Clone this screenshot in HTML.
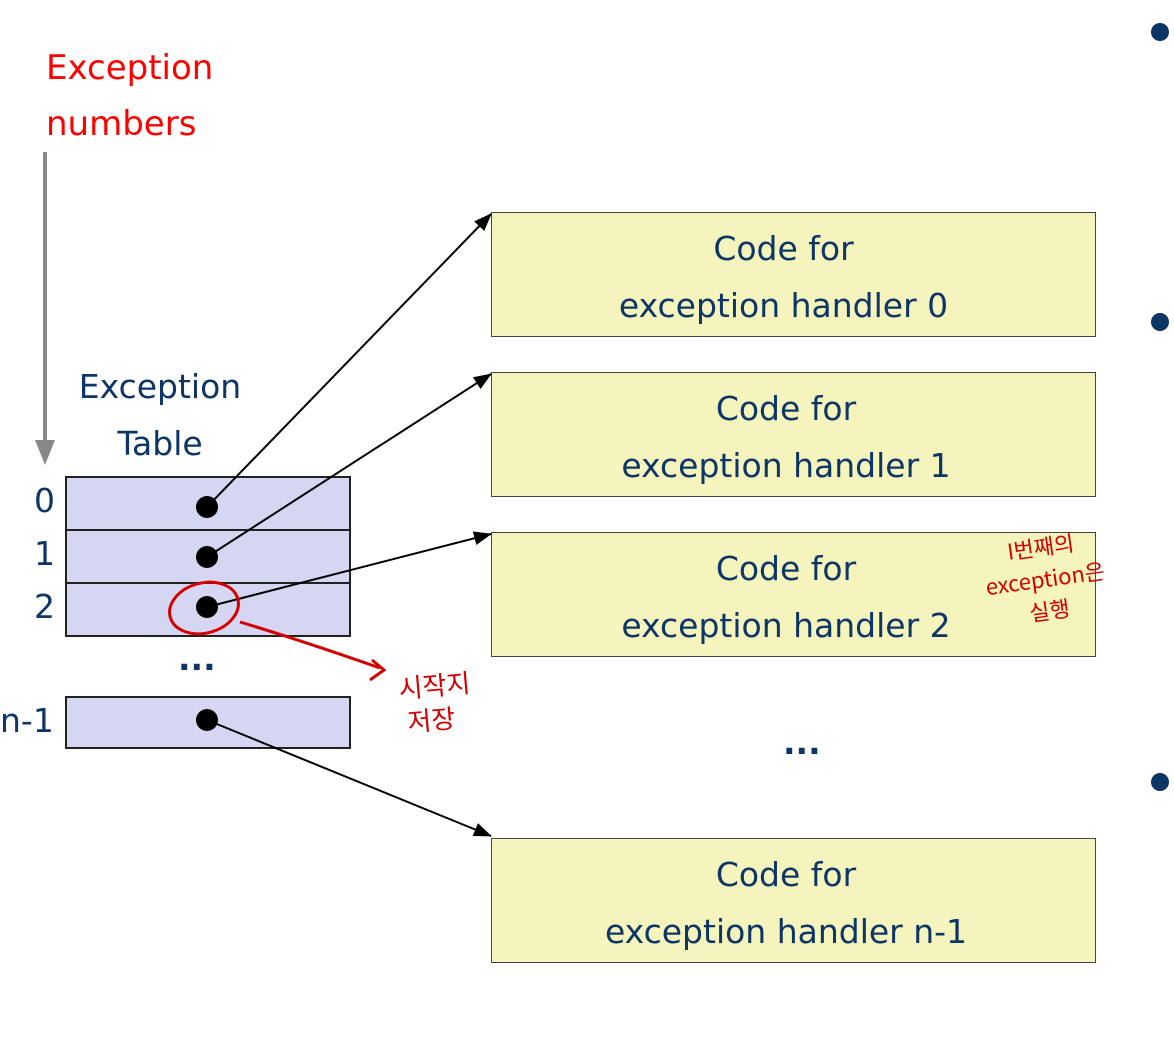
<!DOCTYPE html>
<html><head><meta charset="utf-8"><style>
body{margin:0;background:#fff;width:1174px;height:1040px;overflow:hidden;position:relative;font-family:"DejaVu Sans","Noto Sans CJK KR",sans-serif}
.t{position:absolute;color:#0d3566;font-size:33px;text-align:center;line-height:57px}
.box{position:absolute;left:491px;width:603px;height:123px;background:#f5f4bd;border:1.5px solid #444}
.row{position:absolute;left:65px;width:282px;background:#d5d6f2;border:2px solid #222}
.hw{position:absolute;color:#d40000;font-size:26px;font-family:"Noto Sans CJK KR",sans-serif}
</style></head><body>
<div style="position:absolute;left:46px;top:40px;color:#f00;font-size:34px;line-height:56px">Exception<br>numbers</div>
<div class="t" style="left:50px;top:358px;width:220px">Exception<br>Table</div>
<div class="row" style="top:476px;height:51px"></div>
<div class="row" style="top:529px;height:51px"></div>
<div class="row" style="top:582px;height:51px"></div>
<div class="row" style="top:696px;height:49px"></div>
<div class="t" style="left:34px;top:474px;width:24px;text-align:left;line-height:53px">0<br>1<br>2</div>
<div class="t" style="left:0;top:692px;text-align:left">n-1</div>
<div class="t" style="left:178px;top:630px;font-weight:bold">...</div>
<div class="box" style="top:212px"></div>
<div class="box" style="top:372px"></div>
<div class="box" style="top:532px"></div>
<div class="box" style="top:838px"></div>
<div class="t" style="left:491px;width:585px;top:220px">Code for<br>exception handler 0</div>
<div class="t" style="left:491px;width:590px;top:380px">Code for<br>exception handler 1</div>
<div class="t" style="left:491px;width:590px;top:540px">Code for<br>exception handler 2</div>
<div class="t" style="left:491px;width:590px;top:846px">Code for<br>exception handler n-1</div>
<div class="t" style="left:783px;top:714px;font-weight:bold">...</div>
<svg width="1174" height="1040" style="position:absolute;left:0;top:0">
<defs><marker id="a" markerWidth="18" markerHeight="14" refX="17" refY="7" orient="auto" markerUnits="userSpaceOnUse"><path d="M0,0L18,7L0,14z" fill="#000"/></marker></defs>
<line x1="45" y1="152" x2="45" y2="445" stroke="#888" stroke-width="4"/>
<path d="M35,440L45,465L55,440z" fill="#888"/>
<g fill="#000"><circle cx="207" cy="507" r="11"/><circle cx="207" cy="557" r="11"/><circle cx="207" cy="607" r="11"/><circle cx="207" cy="720" r="11"/></g>
<g stroke="#000" stroke-width="2" marker-end="url(#a)">
<line x1="207" y1="507" x2="491" y2="214"/>
<line x1="207" y1="557" x2="491" y2="374"/>
<line x1="207" y1="607" x2="491" y2="534"/>
<line x1="207" y1="720" x2="491" y2="836"/>
</g>
<g stroke="#d40000" stroke-width="3" fill="none">
<ellipse cx="204" cy="608" rx="35" ry="25" transform="rotate(-15 204 608)"/>
<path d="M240,622Q300,640 380,668"/><path d="M372,660L384,670L370,680"/>
</g>
<g fill="#0d3566"><circle cx="1160" cy="32" r="9"/><circle cx="1160" cy="322" r="9"/><circle cx="1160" cy="782" r="9"/></g>
</svg>
<div class="hw" style="left:400px;top:668px;line-height:34px;transform:rotate(-5deg)">시작지<br>&nbsp;저장</div>
<div class="hw" style="left:985px;top:530px;font-size:22px;line-height:32px;transform:rotate(-8deg);text-align:center">I번째의<br>exception은<br>실행</div>
</body></html>
